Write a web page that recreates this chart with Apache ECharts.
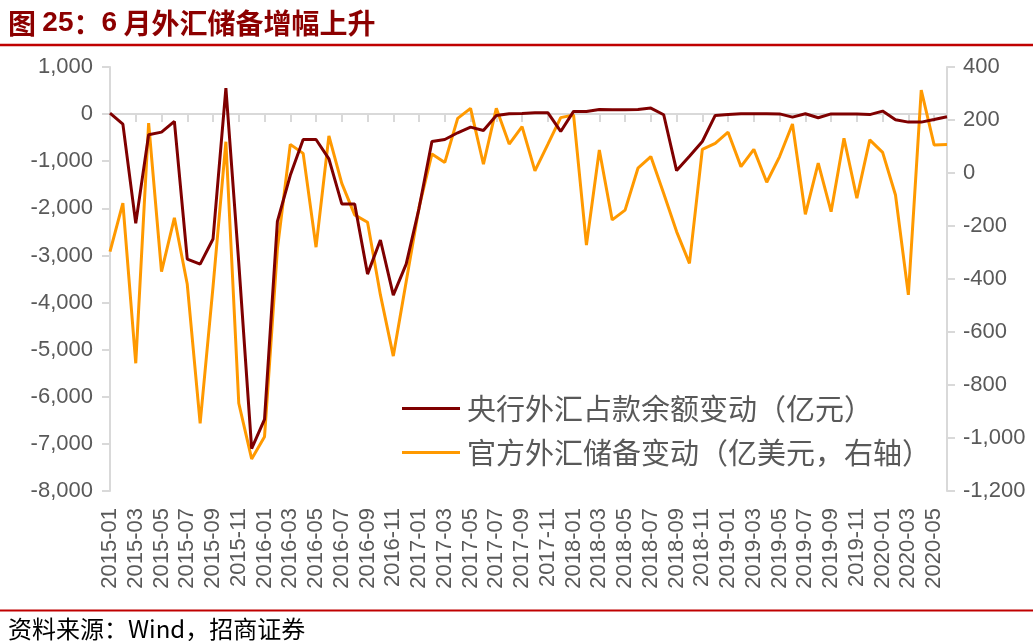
<!DOCTYPE html>
<html>
<head>
<meta charset="utf-8">
<script src="https://cdn.jsdelivr.net/npm/echarts@6/dist/echarts.min.js"></script>
<style>
    html, body { margin: 0; padding: 0; background: #fff; }
    #main { width: 1033px; height: 641px; }
</style>
</head>
<body>
<div id="main"></div>
<script>
// 月份 2015-01 ~ 2020-06
var months = [];
for (var y = 2015; y <= 2020; y++) {
    for (var m = 1; m <= 12; m++) {
        if (y == 2020 && m > 6) break;
        months.push(y + '-' + (m < 10 ? '0' + m : m));
    }
}

// 央行外汇占款余额变动（亿元）
var pbocFx = [
    20, -213, -2319, -439, -383, -155, -3077, -3183, -2652, 553, -3159, -7100,
    -6481, -2277, -1300, -538, -538, -949, -1907, -1907, -3396, -2672, -3843, -3183,
    -2000, -581, -538, -396, -277, -347, -28, 8, 15, 30, 30, -368,
    57, 57, 100, 95, 90, 100, 128, -13, -1198, -894, -581, -28,
    -6, 7, 7, 7, 5, -64, 7, -77, 5, 5, 0, -10,
    64, -119, -170, -170, -113, -55
];

// 官方外汇储备变动（亿美元）
var reserveChg = [
    -297, -114, -718, 188, -372, -169, -420, -945, -430, 118, -869, -1079,
    -995, -286, 108, 74, -280, 140, -39, -158, -186, -460, -691, -410,
    -130, 72, 40, 206, 244, 33, 244, 109, 175, 8, 108, 209,
    219, -272, 87, -177, -140, 18, 62, -77, -221, -341, 89, 112,
    154, 24, 89, -35, 62, 185, -156, 37, -146, 131, -95, 125,
    78, -83, -460, 313, 106, 108
];

var seriesNames = ['央行外汇占款余额变动（亿元）', '官方外汇储备变动（亿美元，右轴）'];

var labelColor = '#595959';
var axisColor = '#D9D9D9';
var numFont = '"Liberation Sans", Arial, sans-serif';
var cjkFont = '"Noto Sans CJK SC", sans-serif';

function thousands(v) {
    return v.toLocaleString('en-US');
}

var myChart = echarts.init(document.getElementById('main'));
var option = {
    backgroundColor: '#fff',
    animation: false,
    title: [
        {
            text: '图 {n|25}：{n|6} 月外汇储备增幅上升',
            left: 3,
            top: 4,
            textStyle: {
                color: '#8C0000',
                fontFamily: cjkFont,
                fontSize: 28,
                fontWeight: 'bold',
                rich: {
                    n: { color: '#8C0000', fontFamily: numFont, fontSize: 28, fontWeight: 'bold' }
                }
            }
        },
        {
            text: '资料来源：Wind，招商证券',
            left: 3,
            top: 612,
            textStyle: {
                color: '#000',
                fontFamily: cjkFont,
                fontSize: 24,
                fontWeight: 'normal'
            }
        }
    ],
    graphic: [
        { type: 'line', shape: { x1: 0, y1: 45, x2: 1033, y2: 45 }, style: { stroke: '#C00000', lineWidth: 2.5 } },
        { type: 'line', shape: { x1: 0, y1: 610.5, x2: 1033, y2: 610.5 }, style: { stroke: '#C00000', lineWidth: 2 } }
    ],
    legend: {
        orient: 'vertical',
        left: 397,
        top: 388,
        icon: 'rect',
        itemWidth: 58,
        itemHeight: 3,
        itemGap: 13,
        data: seriesNames,
        textStyle: {
            color: labelColor,
            fontFamily: cjkFont,
            fontSize: 29,
            lineHeight: 31,
            padding: [0, 0, 0, 2]
        }
    },
    grid: {
        left: 110,
        right: 86,
        top: 67,
        bottom: 150,
        containLabel: false
    },
    xAxis: [
        {
            type: 'category',
            data: months,
            boundaryGap: false,
            axisLine: { onZero: true, lineStyle: { color: axisColor, width: 2 } },
            axisTick: { interval: 1, length: 8, lineStyle: { color: axisColor, width: 2 } },
            axisLabel: { show: false },
            splitLine: { show: false }
        },
        {
            type: 'category',
            data: months,
            position: 'bottom',
            boundaryGap: false,
            axisLine: { show: false, onZero: false },
            axisTick: { show: false },
            axisLabel: {
                interval: 1,
                rotate: 90,
                margin: 17,
                color: labelColor,
                fontFamily: numFont,
                fontSize: 22
            },
            splitLine: { show: false }
        }
    ],
    yAxis: [
        {
            type: 'value',
            min: -8000,
            max: 1000,
            interval: 1000,
            axisLine: { show: true, lineStyle: { color: axisColor, width: 2 } },
            axisTick: { show: true, length: 8, lineStyle: { color: axisColor, width: 2 } },
            axisLabel: {
                margin: 17,
                color: labelColor,
                fontFamily: numFont,
                fontSize: 22,
                formatter: thousands
            },
            splitLine: { show: false }
        },
        {
            type: 'value',
            min: -1200,
            max: 400,
            interval: 200,
            position: 'right',
            axisLine: { show: true, lineStyle: { color: axisColor, width: 2 } },
            axisTick: { show: true, length: 8, lineStyle: { color: axisColor, width: 2 } },
            axisLabel: {
                margin: 16,
                color: labelColor,
                fontFamily: numFont,
                fontSize: 22,
                formatter: thousands
            },
            splitLine: { show: false }
        }
    ],
    series: [
        {
            name: seriesNames[0],
            type: 'line',
            xAxisIndex: 0,
            yAxisIndex: 0,
            data: pbocFx,
            symbol: 'none',
            lineStyle: { color: '#7F0000', width: 3 },
            itemStyle: { color: '#7F0000' },
            z: 3
        },
        {
            name: seriesNames[1],
            type: 'line',
            xAxisIndex: 0,
            yAxisIndex: 1,
            data: reserveChg,
            symbol: 'none',
            lineStyle: { color: '#FF9900', width: 3 },
            itemStyle: { color: '#FF9900' },
            z: 2
        }
    ]
};
myChart.setOption(option);
</script>
</body>
</html>
